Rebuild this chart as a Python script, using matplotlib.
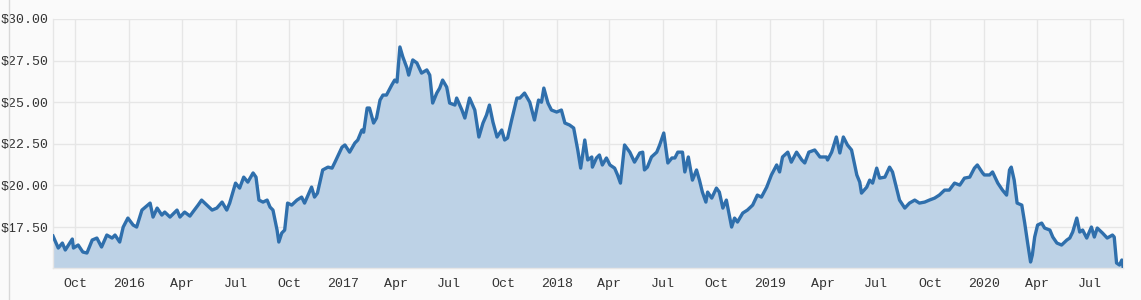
#!/usr/bin/env python

import matplotlib as mpl
mpl.use('Agg')
import matplotlib.pyplot as plt
import matplotlib.dates as mdates
from matplotlib.lines import Line2D
import pandas as pd

mpl.rcParams['font.family'] = ['Liberation Mono', 'DejaVu Sans Mono']

dates = [
    '2015-08-24', '2015-09-02', '2015-09-09', '2015-09-14', '2015-09-26', '2015-09-28',
    '2015-10-06', '2015-10-14', '2015-10-21', '2015-10-30', '2015-11-07', '2015-11-15',
    '2015-11-24', '2015-12-03', '2015-12-08', '2015-12-16', '2015-12-22', '2015-12-30',
    '2016-01-08', '2016-01-14', '2016-01-23', '2016-02-06', '2016-02-11', '2016-02-18',
    '2016-02-26', '2016-03-02', '2016-03-11', '2016-03-23', '2016-03-28', '2016-04-05',
    '2016-04-14', '2016-04-19', '2016-04-28', '2016-05-04', '2016-05-13', '2016-05-22',
    '2016-05-30', '2016-06-08', '2016-06-16', '2016-06-21', '2016-07-01', '2016-07-08',
    '2016-07-15', '2016-07-22', '2016-07-31', '2016-08-05', '2016-08-10', '2016-08-17',
    '2016-08-24', '2016-08-29', '2016-09-03', '2016-09-10', '2016-09-13', '2016-09-18',
    '2016-09-23', '2016-09-28', '2016-10-05', '2016-10-14', '2016-10-22', '2016-10-27',
    '2016-11-08', '2016-11-13', '2016-11-18', '2016-11-27', '2016-12-06', '2016-12-13',
    '2016-12-18', '2016-12-30', '2017-01-04', '2017-01-12', '2017-01-21', '2017-01-26',
    '2017-02-02', '2017-02-05', '2017-02-11', '2017-02-15', '2017-02-22', '2017-02-27',
    '2017-03-05', '2017-03-10', '2017-03-16', '2017-03-25', '2017-03-30', '2017-04-03',
    '2017-04-08', '2017-04-13', '2017-04-20', '2017-04-23', '2017-04-30', '2017-05-07',
    '2017-05-15', '2017-05-24', '2017-05-29', '2017-06-03', '2017-06-10', '2017-06-15',
    '2017-06-20', '2017-06-27', '2017-07-02', '2017-07-11', '2017-07-14', '2017-07-23',
    '2017-07-28', '2017-08-05', '2017-08-14', '2017-08-21', '2017-08-28', '2017-09-03',
    '2017-09-08', '2017-09-14', '2017-09-21', '2017-09-29', '2017-10-04', '2017-10-09',
    '2017-10-16', '2017-10-25', '2017-10-30', '2017-11-07', '2017-11-16', '2017-11-24',
    '2017-12-01', '2017-12-06', '2017-12-10', '2017-12-17', '2017-12-23', '2018-01-01',
    '2018-01-09', '2018-01-15', '2018-01-23', '2018-01-30', '2018-02-06', '2018-02-11',
    '2018-02-18', '2018-02-23', '2018-03-02', '2018-03-03', '2018-03-10', '2018-03-15',
    '2018-03-20', '2018-03-27', '2018-04-02', '2018-04-10', '2018-04-15', '2018-04-20',
    '2018-04-27', '2018-05-06', '2018-05-14', '2018-05-23', '2018-05-28', '2018-05-31',
    '2018-06-05', '2018-06-12', '2018-06-21', '2018-06-26', '2018-07-03', '2018-07-10',
    '2018-07-17', '2018-07-22', '2018-07-27', '2018-08-04', '2018-08-08', '2018-08-14',
    '2018-08-21', '2018-08-28', '2018-09-02', '2018-09-07', '2018-09-13', '2018-09-16',
    '2018-09-23', '2018-10-01', '2018-10-06', '2018-10-12', '2018-10-18', '2018-10-27',
    '2018-11-01', '2018-11-06', '2018-11-15', '2018-11-23', '2018-12-02', '2018-12-10',
    '2018-12-17', '2018-12-26', '2019-01-03', '2019-01-12', '2019-01-17', '2019-01-22',
    '2019-01-31', '2019-02-06', '2019-02-15', '2019-02-24', '2019-03-01', '2019-03-08',
    '2019-03-18', '2019-03-27', '2019-04-07', '2019-04-09', '2019-04-16', '2019-04-24',
    '2019-04-30', '2019-05-06', '2019-05-13', '2019-05-20', '2019-05-29', '2019-06-03',
    '2019-06-06', '2019-06-15', '2019-06-20', '2019-06-25', '2019-07-02', '2019-07-07',
    '2019-07-16', '2019-07-24', '2019-07-29', '2019-08-05', '2019-08-10', '2019-08-19',
    '2019-08-27', '2019-09-05', '2019-09-13', '2019-09-22', '2019-09-30', '2019-10-09',
    '2019-10-17', '2019-10-26', '2019-11-03', '2019-11-12', '2019-11-21', '2019-11-29',
    '2019-12-08', '2019-12-16', '2019-12-21', '2019-12-30', '2020-01-02', '2020-01-11',
    '2020-01-16', '2020-01-25', '2020-02-02', '2020-02-09', '2020-02-14', '2020-02-17',
    '2020-02-22', '2020-02-27', '2020-03-06', '2020-03-11', '2020-03-16', '2020-03-21',
    '2020-03-24', '2020-03-28', '2020-04-02', '2020-04-09', '2020-04-14', '2020-04-23',
    '2020-04-28', '2020-05-05', '2020-05-13', '2020-05-22', '2020-05-27', '2020-06-01',
    '2020-06-08', '2020-06-13', '2020-06-18', '2020-06-25', '2020-07-03', '2020-07-08',
    '2020-07-13', '2020-07-22', '2020-07-30', '2020-08-08', '2020-08-11', '2020-08-15',
    '2020-08-20', '2020-08-24', '2020-08-26',
]

prices = [
    16.96, 16.24, 16.54, 16.12, 16.78, 16.24,
    16.42, 16.00, 15.94, 16.72, 16.84, 16.30,
    17.02, 16.84, 17.02, 16.60, 17.50, 18.04,
    17.62, 17.50, 18.52, 18.94, 18.10, 18.64,
    18.22, 18.40, 18.10, 18.52, 18.10, 18.40,
    18.16, 18.40, 18.82, 19.12, 18.82, 18.52,
    18.64, 19.00, 18.52, 18.94, 20.14, 19.84,
    20.50, 20.20, 20.75, 20.50, 19.12, 19.00,
    19.12, 18.70, 18.52, 17.32, 16.60, 17.14,
    17.32, 18.94, 18.82, 19.12, 19.30, 18.94,
    19.90, 19.30, 19.54, 20.93, 21.10, 21.04,
    21.40, 22.30, 22.43, 22.00, 22.55, 22.73,
    23.33, 23.20, 24.65, 24.65, 23.75, 24.05,
    25.13, 25.43, 25.43, 26.03, 26.33, 26.21,
    28.32, 27.72, 27.06, 26.63, 27.54, 27.36,
    26.75, 26.94, 26.63, 24.95, 25.55, 25.85,
    26.33, 25.91, 24.95, 24.83, 25.25, 24.53,
    24.05, 25.25, 24.53, 22.91, 23.75, 24.23,
    24.83, 23.81, 22.91, 23.33, 22.73, 22.85,
    23.93, 25.25, 25.25, 25.55, 25.00, 23.93,
    25.13, 25.00, 25.85, 24.95, 24.53, 24.41,
    24.53, 23.75, 23.63, 23.45, 22.13, 21.04,
    22.73, 21.53, 21.71, 21.10, 21.65, 21.83,
    21.23, 21.65, 21.23, 21.04, 20.63, 20.14,
    22.43, 22.00, 21.40, 21.95, 22.00, 20.93,
    21.10, 21.71, 22.00, 22.43, 23.15, 21.35,
    21.65, 21.65, 22.00, 22.00, 20.81, 21.71,
    20.32, 20.93, 20.32, 19.60, 19.00, 19.60,
    19.24, 19.84, 19.60, 18.64, 19.12, 17.50,
    18.04, 17.80, 18.34, 18.52, 18.82, 19.42,
    19.30, 19.90, 20.63, 21.23, 20.81, 21.71,
    22.00, 21.40, 22.00, 21.53, 21.35, 22.00,
    22.13, 21.71, 21.71, 21.53, 22.00, 22.91,
    21.95, 22.91, 22.43, 22.13, 20.63, 20.20,
    19.54, 19.90, 20.32, 20.14, 21.04, 20.44,
    20.50, 21.10, 20.81, 19.84, 19.12, 18.64,
    18.94, 19.12, 18.94, 19.00, 19.12, 19.24,
    19.42, 19.72, 19.72, 20.14, 20.02, 20.44,
    20.50, 21.04, 21.23, 20.75, 20.63, 20.63,
    20.81, 20.14, 19.72, 19.42, 20.93, 21.10,
    20.32, 18.94, 18.82, 17.74, 16.54, 15.40,
    15.82, 16.90, 17.62, 17.74, 17.44, 17.32,
    16.90, 16.54, 16.42, 16.72, 16.84, 17.20,
    18.04, 17.20, 17.32, 16.84, 17.50, 16.90,
    17.44, 17.14, 16.84, 17.02, 16.90, 15.34,
    15.22, 15.52, 15.15,
]

y_ticks = [17.5, 20.0, 22.5, 25.0, 27.5, 30.0]
y_min = 15.04
y_max = 30.0


def month_label(x, pos=None):
    d = mdates.num2date(x)
    if d.month == 1:
        return str(d.year)
    return d.strftime('%b')


def plot_prices(outputfile):
    x = pd.to_datetime(dates)
    bg = '#fafafa'
    grid = '#e6e6e6'
    fig = plt.figure(figsize=(11.41, 3.0), dpi=100, facecolor=bg)
    ax = fig.add_axes([53 / 1141, 32 / 300, 1070 / 1141, 249 / 300])
    ax.set_facecolor(bg)

    ax.fill_between(x, prices, y_min, color='#bdd2e6', linewidth=0, zorder=2)
    ax.plot(x, prices, color='#2f6fac', linewidth=2.4, zorder=3)

    ax.set_xlim(x[0], x[-1])
    ax.set_ylim(y_min, y_max)
    ax.set_yticks(y_ticks)
    ax.yaxis.set_major_formatter(mpl.ticker.FuncFormatter(lambda v, p: '$%.2f' % v))
    ax.xaxis.set_major_locator(mdates.MonthLocator(bymonth=[1, 4, 7, 10]))
    ax.xaxis.set_major_formatter(mpl.ticker.FuncFormatter(month_label))

    ax.grid(True, color=grid, linewidth=1.0, zorder=1)
    ax.set_axisbelow(True)
    for side in ['top', 'bottom', 'right', 'left']:
        ax.spines[side].set_color(grid)
        ax.spines[side].set_linewidth(1.0)
    ax.spines['top'].set_visible(False)
    ax.tick_params(length=0, labelsize=9.5, labelcolor='#333333')
    ax.tick_params(axis='x', pad=7)
    ax.tick_params(axis='y', pad=3)

    fig.add_artist(Line2D([9 / 1141, 9 / 1141], [0, 1], color='#d8d8d8', linewidth=1.0,
                          transform=fig.transFigure))

    fig.savefig(outputfile, dpi=100, facecolor=bg)


if __name__ == '__main__':
    plot_prices('out.png')
